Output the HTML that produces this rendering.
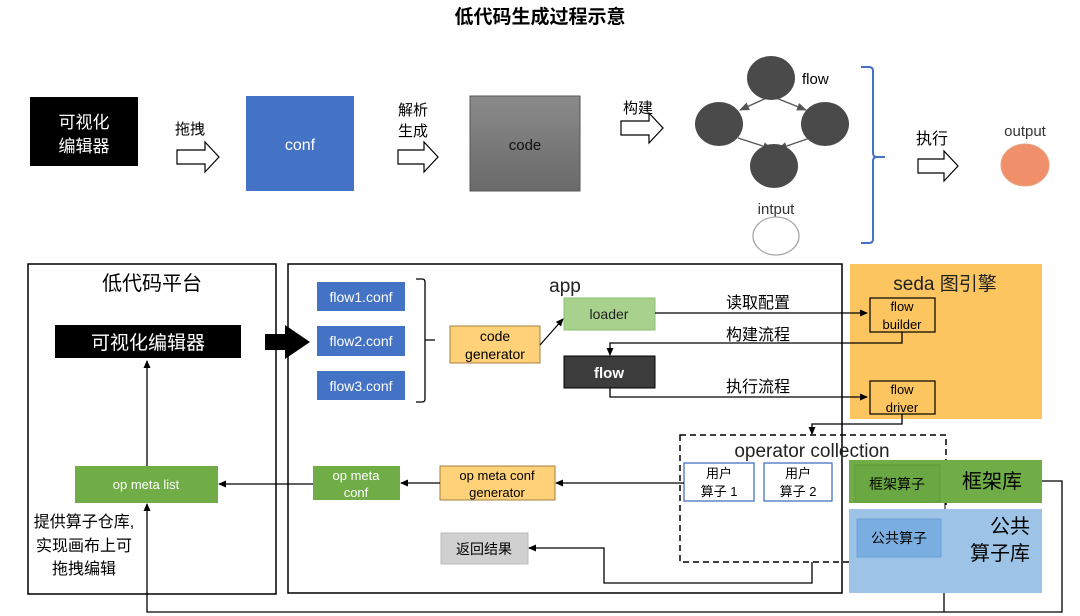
<!DOCTYPE html>
<html><head><meta charset="utf-8"><style>
html,body{margin:0;padding:0;background:#fff}
svg{display:block}
text{font-family:"Liberation Sans","Noto Sans CJK SC",sans-serif}
</style></head><body>
<svg width="1080" height="616" viewBox="0 0 1080 616" xmlns="http://www.w3.org/2000/svg">
<defs>
<marker id="a" markerWidth="8" markerHeight="8" refX="7" refY="4" orient="auto" markerUnits="userSpaceOnUse"><path d="M0,0.5 L8,4 L0,7.5 Z" fill="#000"/></marker>
<marker id="g" markerWidth="10" markerHeight="10" refX="9" refY="5" orient="auto" markerUnits="userSpaceOnUse"><path d="M0,1 L10,5 L0,9 Z" fill="#555"/></marker>
<linearGradient id="cg" x1="0" y1="0" x2="0" y2="1"><stop offset="0" stop-color="#8a8a8a"/><stop offset="1" stop-color="#6a6a6a"/></linearGradient>
</defs>
<text x="540" y="23" font-size="19" font-weight="bold" text-anchor="middle">低代码生成过程示意</text>

<!-- top row -->
<rect x="30" y="97" width="108" height="69" fill="#000"/>
<text x="84" y="128" fill="#fff" font-size="17" text-anchor="middle">可视化</text>
<text x="84" y="152" fill="#fff" font-size="17" text-anchor="middle">编辑器</text>
<text x="190" y="134" font-size="15" text-anchor="middle">拖拽</text>
<path d="M177,150 h28 v-8 l14,15 l-14,15 v-8 h-28 z" fill="#fff" stroke="#000" stroke-width="1.2"/>
<rect x="246" y="96" width="108" height="95" fill="#4472c4"/>
<text x="300" y="150" fill="#fff" font-size="16" text-anchor="middle">conf</text>
<text x="413" y="115" font-size="15" text-anchor="middle">解析</text>
<text x="413" y="136" font-size="15" text-anchor="middle">生成</text>
<path d="M398,150 h26 v-8 l14,15 l-14,15 v-8 h-26 z" fill="#fff" stroke="#000" stroke-width="1.2"/>
<rect x="470" y="96" width="110" height="95" fill="url(#cg)" stroke="#555"/>
<text x="525" y="150" fill="#111" font-size="15" text-anchor="middle">code</text>
<text x="638" y="113" font-size="15" text-anchor="middle">构建</text>
<path d="M621,121 h28 v-8 l14,15 l-14,15 v-8 h-28 z" fill="#fff" stroke="#000" stroke-width="1.2"/>
<!-- graph -->
<line x1="771" y1="96" x2="740" y2="110" stroke="#555" stroke-width="1.3" marker-end="url(#g)"/>
<line x1="771" y1="96" x2="806" y2="110" stroke="#555" stroke-width="1.3" marker-end="url(#g)"/>
<line x1="738" y1="138" x2="772" y2="149" stroke="#555" stroke-width="1.3" marker-end="url(#g)"/>
<line x1="810" y1="138" x2="778" y2="149" stroke="#555" stroke-width="1.3" marker-end="url(#g)"/>
<ellipse cx="771" cy="78" rx="24" ry="22" fill="#4a4a4a"/>
<ellipse cx="719" cy="124" rx="24" ry="22" fill="#4a4a4a"/>
<ellipse cx="825" cy="124" rx="24" ry="22" fill="#4a4a4a"/>
<ellipse cx="774" cy="166" rx="24" ry="22" fill="#4a4a4a"/>
<text x="802" y="84" font-size="15">flow</text>
<text x="776" y="214" font-size="15" text-anchor="middle" fill="#333">intput</text>
<ellipse cx="776" cy="236" rx="23" ry="19" fill="#fff" stroke="#aaa" stroke-width="1.3"/>
<path d="M861,67 h8 q4,0 4,4 v82 q0,4 4,4 h8 M877,157 q-4,0 -4,4 v78 q0,4 -4,4 h-8" fill="none" stroke="#4472c4" stroke-width="2"/>
<text x="932" y="144" font-size="16" text-anchor="middle">执行</text>
<path d="M918,159 h26 v-8 l14,15 l-14,15 v-8 h-26 z" fill="#fff" stroke="#000" stroke-width="1.2"/>
<text x="1025" y="136" font-size="15" text-anchor="middle" fill="#333">output</text>
<ellipse cx="1025" cy="165" rx="24" ry="21" fill="#f0906a" stroke="#e8a080"/>

<!-- bottom: containers -->
<rect x="850" y="264" width="192" height="155" fill="#fcc560"/>
<rect x="28" y="264" width="248" height="330" fill="none" stroke="#000" stroke-width="1.5"/>
<rect x="288" y="264" width="554" height="329" fill="none" stroke="#000" stroke-width="1.5"/>
<text x="152" y="290" font-size="20" text-anchor="middle">低代码平台</text>
<rect x="55" y="325" width="186" height="33" fill="#000"/>
<text x="148" y="349" fill="#fff" font-size="19" text-anchor="middle">可视化编辑器</text>
<path d="M265,334 h20 v-9 l25,17 l-25,17 v-9 h-20 z" fill="#000"/>
<line x1="147" y1="466" x2="147" y2="361" stroke="#000" stroke-width="1.3" marker-end="url(#a)"/>
<rect x="75" y="466" width="143" height="37" fill="#70ad47"/>
<text x="146" y="489" fill="#fff" font-size="13" text-anchor="middle">op meta list</text>
<text x="84" y="527" font-size="16" text-anchor="middle">提供算子仓库,</text>
<text x="84" y="551" font-size="16" text-anchor="middle">实现画布上可</text>
<text x="84" y="574" font-size="16" text-anchor="middle">拖拽编辑</text>

<text x="565" y="292" font-size="19" text-anchor="middle" fill="#222">app</text>
<rect x="317" y="282" width="88" height="29" fill="#4472c4"/>
<text x="361" y="302" fill="#fff" font-size="14" text-anchor="middle">flow1.conf</text>
<rect x="317" y="326" width="88" height="30" fill="#4472c4"/>
<text x="361" y="346" fill="#fff" font-size="14" text-anchor="middle">flow2.conf</text>
<rect x="317" y="371" width="88" height="29" fill="#4472c4"/>
<text x="361" y="391" fill="#fff" font-size="14" text-anchor="middle">flow3.conf</text>
<path d="M416,279 h6 q3,0 3,3 v117 q0,3 -3,3 h-6 M425,340 h10" fill="none" stroke="#000" stroke-width="1.3"/>
<rect x="450" y="326" width="90" height="37" fill="#ffd27a" stroke="#a08040"/>
<text x="495" y="341" font-size="14" text-anchor="middle">code</text>
<text x="495" y="359" font-size="14" text-anchor="middle">generator</text>
<line x1="540" y1="345" x2="563" y2="319" stroke="#000" stroke-width="1.2" marker-end="url(#a)"/>
<rect x="564" y="298" width="91" height="32" fill="#a9d18e" stroke="#8bc070"/>
<text x="609" y="319" font-size="14" text-anchor="middle" fill="#222">loader</text>
<rect x="564" y="356" width="91" height="32" fill="#3c3c3c" stroke="#000"/>
<text x="609" y="378" font-size="15" font-weight="bold" text-anchor="middle" fill="#fff">flow</text>

<text x="758" y="308" font-size="16" text-anchor="middle">读取配置</text>
<line x1="655" y1="313" x2="867" y2="313" stroke="#000" stroke-width="1.3" marker-end="url(#a)"/>
<text x="758" y="340" font-size="16" text-anchor="middle">构建流程</text>
<polyline points="902,332 902,343 610,343 610,355" fill="none" stroke="#000" stroke-width="1.3" marker-end="url(#a)"/>
<text x="758" y="392" font-size="16" text-anchor="middle">执行流程</text>
<polyline points="610,388 610,397 867,397" fill="none" stroke="#000" stroke-width="1.3" marker-end="url(#a)"/>

<text x="945" y="290" font-size="19" text-anchor="middle" fill="#222">seda 图引擎</text>
<rect x="870" y="298" width="65" height="34" fill="none" stroke="#000" stroke-width="1.2"/>
<text x="902" y="311" font-size="13" text-anchor="middle">flow</text>
<text x="902" y="329" font-size="13" text-anchor="middle">builder</text>
<rect x="870" y="381" width="65" height="33" fill="none" stroke="#000" stroke-width="1.2"/>
<text x="902" y="394" font-size="13" text-anchor="middle">flow</text>
<text x="902" y="412" font-size="13" text-anchor="middle">driver</text>
<polyline points="902,414 902,424 812,424 812,434" fill="none" stroke="#000" stroke-width="1.3" marker-end="url(#a)"/>

<rect x="680" y="435" width="266" height="127" fill="none" stroke="#000" stroke-width="1.5" stroke-dasharray="6,4"/>
<text x="812" y="457" font-size="19" text-anchor="middle" fill="#222">operator collection</text>
<rect x="684" y="463" width="70" height="38" fill="#fff" stroke="#4472c4" stroke-width="1.3"/>
<text x="719" y="478" font-size="13" text-anchor="middle">用户</text>
<text x="719" y="496" font-size="13" text-anchor="middle">算子 1</text>
<rect x="764" y="463" width="68" height="38" fill="#fff" stroke="#4472c4" stroke-width="1.3"/>
<text x="798" y="478" font-size="13" text-anchor="middle">用户</text>
<text x="798" y="496" font-size="13" text-anchor="middle">算子 2</text>

<rect x="849" y="460" width="193" height="43" fill="#70ad47"/>
<rect x="849" y="509" width="193" height="84" fill="#9dc3e6"/>
<rect x="855" y="465" width="85" height="37" fill="#6aa844" stroke="#5e9a3c"/>
<text x="897" y="489" font-size="14" text-anchor="middle">框架算子</text>
<text x="992" y="488" font-size="20" text-anchor="middle">框架库</text>
<rect x="857" y="519" width="84" height="38" fill="#7aaee0" stroke="#6a9fd8"/>
<text x="899" y="543" font-size="14" text-anchor="middle">公共算子</text>
<text x="1030" y="533" font-size="20" text-anchor="end">公共</text>
<text x="1030" y="560" font-size="20" text-anchor="end">算子库</text>
<line x1="945" y1="503" x2="945" y2="509" stroke="#000"/>

<line x1="684" y1="483" x2="556" y2="483" stroke="#000" stroke-width="1.3" marker-end="url(#a)"/>
<rect x="440" y="466" width="115" height="34" fill="#ffd27a" stroke="#a08040"/>
<text x="497" y="480" font-size="13" text-anchor="middle">op meta conf</text>
<text x="497" y="497" font-size="13" text-anchor="middle">generator</text>
<line x1="440" y1="483" x2="401" y2="483" stroke="#000" stroke-width="1.3" marker-end="url(#a)"/>
<rect x="313" y="466" width="87" height="34" fill="#70ad47"/>
<text x="356" y="480" font-size="13" text-anchor="middle" fill="#fff">op meta</text>
<text x="356" y="497" font-size="13" text-anchor="middle" fill="#fff">conf</text>
<line x1="313" y1="484" x2="219" y2="484" stroke="#000" stroke-width="1.3" marker-end="url(#a)"/>

<rect x="441" y="533" width="87" height="31" fill="#d0d0d0" stroke="#bbb"/>
<text x="484" y="554" font-size="14" text-anchor="middle">返回结果</text>
<polyline points="812,562 812,583 604,583 604,548 529,548" fill="none" stroke="#000" stroke-width="1.3" marker-end="url(#a)"/>

<polyline points="1042,481 1062,481 1062,612 147,612 147,504" fill="none" stroke="#000" stroke-width="1.3" marker-end="url(#a)"/>
<line x1="944" y1="593" x2="944" y2="612" stroke="#000" stroke-width="1.3"/>
</svg>
</body></html>
